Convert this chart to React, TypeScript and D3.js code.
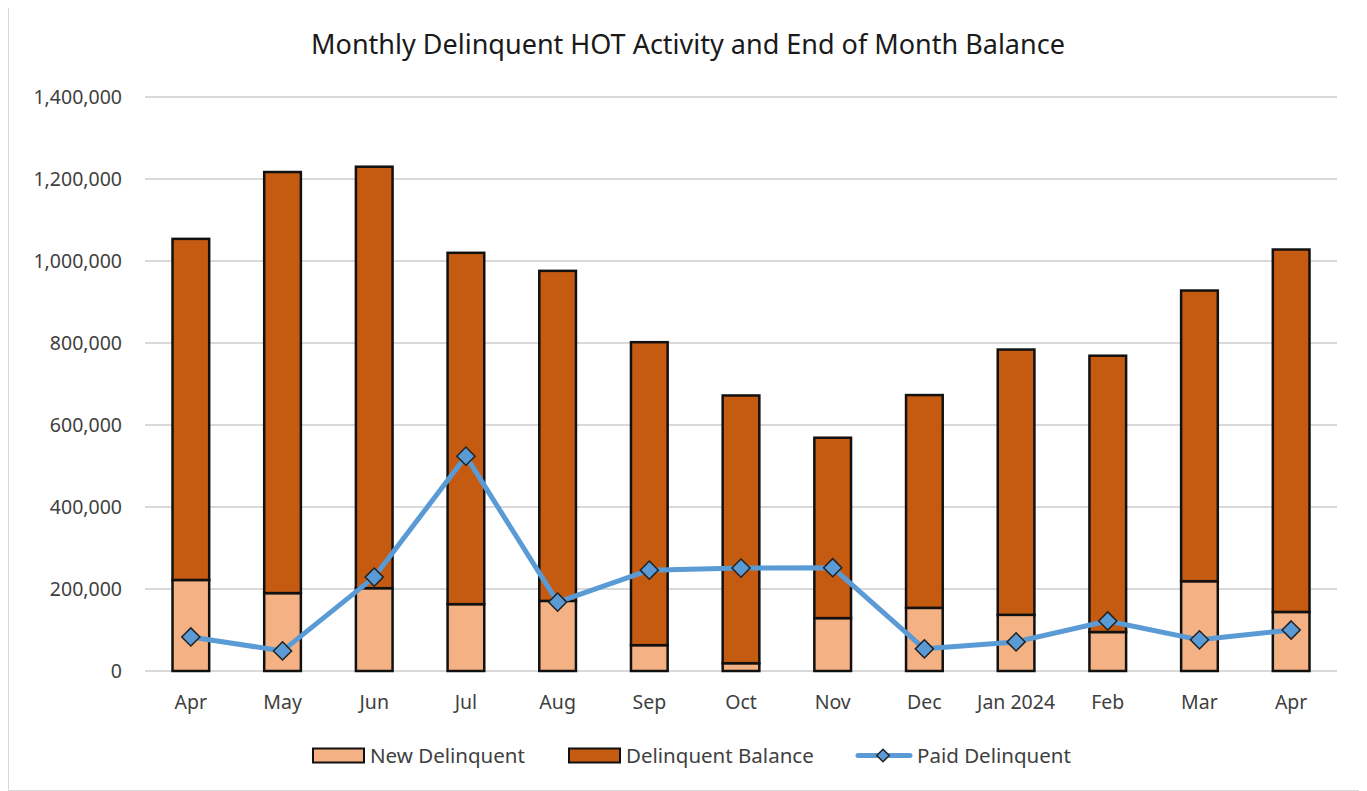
import { useEffect, useRef } from 'react';
import * as d3 from 'd3';

const months = ['Apr', 'May', 'Jun', 'Jul', 'Aug', 'Sep', 'Oct', 'Nov', 'Dec', 'Jan 2024', 'Feb', 'Mar', 'Apr'];
const newDelinquent = [222000, 190000, 202000, 163000, 171000, 63000, 19000, 129000, 154000, 137000, 95000, 219000, 144000];
const delinquentBalance = [832000, 1027000, 1028000, 857000, 805000, 739000, 653000, 440000, 519000, 647000, 674000, 709000, 884000];
const paidDelinquent = [83000, 49000, 229000, 524000, 168000, 246000, 251000, 252000, 54000, 71000, 122000, 76000, 100000];
const yTicks = [0, 200000, 400000, 600000, 800000, 1000000, 1200000, 1400000];

const legendItems = ['New Delinquent', 'Delinquent Balance', 'Paid Delinquent'];

function App() {
  const svgRef = useRef<SVGSVGElement | null>(null);
  const width = 1359;
  const height = 783;
  const margin = { top: 89, right: 30, bottom: 120, left: 137 };
  const font = "'Noto Sans', 'Open Sans', sans-serif";

  useEffect(() => {
    const svg = d3.select(svgRef.current);
    svg.selectAll('*').remove();

    // chart frame
    svg
      .append('rect')
      .attr('x', 0.5)
      .attr('y', -0.5)
      .attr('width', 1357)
      .attr('height', height)
      .attr('fill', 'white')
      .attr('stroke', '#d9d9d9');

    const x = d3
      .scaleBand()
      .domain(months.map((m, i) => `${i}`))
      .range([margin.left, width - margin.right])
      .paddingInner(0.6)
      .paddingOuter(0.3);

    const y = d3
      .scaleLinear()
      .domain([0, 1400000])
      .range([height - margin.bottom, margin.top]);

    // gridlines
    svg
      .append('g')
      .selectAll('line')
      .data(yTicks)
      .join('line')
      .attr('x1', margin.left)
      .attr('x2', width - margin.right)
      .attr('y1', (d) => y(d))
      .attr('y2', (d) => y(d))
      .attr('stroke', '#d9d9d9')
      .attr('stroke-width', 2);

    const yAxis = d3
      .axisLeft(y)
      .tickValues(yTicks)
      .tickSize(0)
      .tickPadding(23)
      .tickFormat((d) => d3.format(',')(d as number));

    svg
      .append('g')
      .attr('transform', `translate(${margin.left},0)`)
      .call(yAxis)
      .call((g) => g.select('.domain').remove())
      .selectAll('text')
      .attr('font-family', font)
      .attr('font-size', 19.5)
      .attr('fill', '#404040');

    const xAxis = d3
      .axisBottom(x)
      .tickSize(0)
      .tickPadding(24)
      .tickFormat((d) => months[+d]);

    svg
      .append('g')
      .attr('transform', `translate(0,${height - margin.bottom})`)
      .call(xAxis)
      .call((g) => g.select('.domain').remove())
      .selectAll('text')
      .attr('font-family', font)
      .attr('font-size', 19.5)
      .attr('fill', '#404040');

    const rows = months.map((m, i) => ({
      key: `${i}`,
      newD: newDelinquent[i],
      bal: delinquentBalance[i],
    }));
    const stack = d3.stack<(typeof rows)[number]>().keys(['newD', 'bal'])(rows as any);
    const colors = ['#F4B183', '#C55A11'];

    svg
      .append('g')
      .selectAll('g')
      .data(stack)
      .join('g')
      .attr('fill', (d, i) => colors[i])
      .selectAll('rect')
      .data((d) => d)
      .join('rect')
      .attr('x', (d) => x(d.data.key)!)
      .attr('width', x.bandwidth())
      .attr('y', (d) => y(d[1]))
      .attr('height', (d) => y(d[0]) - y(d[1]))
      .attr('stroke', '#111')
      .attr('stroke-width', 2.5);

    const cx = (i: number) => x(`${i}`)! + x.bandwidth() / 2;

    const line = d3
      .line<number>()
      .x((d, i) => cx(i))
      .y((d) => y(d));

    svg
      .append('path')
      .attr('d', line(paidDelinquent))
      .attr('fill', 'none')
      .attr('stroke', '#5B9BD5')
      .attr('stroke-width', 5)
      .attr('stroke-linejoin', 'round')
      .attr('stroke-linecap', 'round');

    const diamond = d3.symbol().type(d3.symbolDiamond2).size(210);

    svg
      .append('g')
      .selectAll('path')
      .data(paidDelinquent)
      .join('path')
      .attr('d', diamond)
      .attr('transform', (d, i) => `translate(${cx(i)},${y(d)})`)
      .attr('fill', '#5B9BD5')
      .attr('stroke', '#222')
      .attr('stroke-width', 1.5);

    // title
    svg
      .append('text')
      .attr('x', 680)
      .attr('y', 46)
      .attr('text-anchor', 'middle')
      .attr('font-family', font)
      .attr('font-size', 27)
      .attr('fill', '#1a1a1a')
      .text('Monthly Delinquent HOT Activity and End of Month Balance');

    // legend
    const legendY = 747.5;
    const legendX = [305, 561, 848];
    const lg = svg
      .append('g')
      .selectAll('g')
      .data(legendItems)
      .join('g')
      .attr('transform', (d, i) => `translate(${legendX[i]},${legendY})`);

    lg.filter((d, i) => i < 2)
      .append('rect')
      .attr('x', 0)
      .attr('y', -7)
      .attr('width', 51)
      .attr('height', 14)
      .attr('fill', (d, i) => colors[i])
      .attr('stroke', '#111')
      .attr('stroke-width', 2);

    const paidLegend = lg.filter((d, i) => i === 2);
    paidLegend
      .append('line')
      .attr('x1', 2)
      .attr('x2', 54)
      .attr('y1', 0)
      .attr('y2', 0)
      .attr('stroke', '#5B9BD5')
      .attr('stroke-width', 5)
      .attr('stroke-linecap', 'round');
    paidLegend
      .append('path')
      .attr('d', d3.symbol().type(d3.symbolDiamond2).size(100)())
      .attr('transform', 'translate(27,0)')
      .attr('fill', '#5B9BD5')
      .attr('stroke', '#222')
      .attr('stroke-width', 1.5);

    lg.append('text')
      .attr('x', (d, i) => (i === 2 ? 61 : 57))
      .attr('y', 0)
      .attr('dy', '0.35em')
      .attr('font-family', font)
      .attr('font-size', 20.5)
      .attr('fill', '#404040')
      .text((d) => d);
  }, []);

  return <svg ref={svgRef} width={width} height={height} style={{ display: 'block' }} />;
}

export default App;
